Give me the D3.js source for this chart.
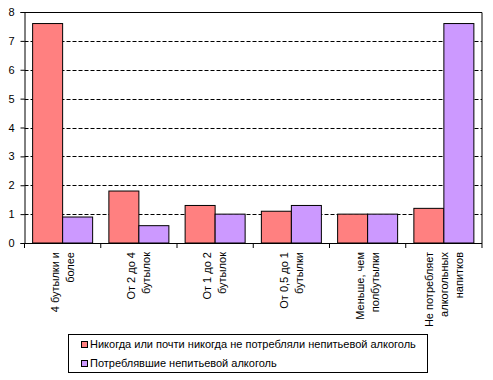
<!DOCTYPE html>
<html>
<head>
<meta charset="utf-8">
<script src="https://cdn.jsdelivr.net/npm/d3@7"></script>
<style>
  body { margin: 0; background: #fff; }
  svg { display: block; font-family: "Liberation Sans", Arial, sans-serif; }
</style>
</head>
<body>
<svg id="chart"></svg>
<script>
const categories = [
    ["4 бутылки и", "более"],
    ["От 2 до 4", "бутылок"],
    ["От 1 до 2", "бутылок"],
    ["От 0,5 до 1", "бутылки"],
    ["Меньше, чем", "полбутылки"],
    ["Не потребляет", "алкогольных", "напитков"]
];
const seriesNames = [
    "Никогда или почти никогда не потребляли непитьевой алкоголь",
    "Потреблявшие непитьевой алкоголь"
];
const neverValues = [7.6, 1.8, 1.3, 1.1, 1.0, 1.2];
const drankValues = [0.9, 0.6, 1.0, 1.3, 1.0, 7.6];
const yTicks = [0, 1, 2, 3, 4, 5, 6, 7, 8];
const colors = ["#FF8080", "#CC99FF"];

const width = 493, height = 380;
const margin = {top: 12, right: 11, bottom: 137, left: 24.5};
const plotW = width - margin.left - margin.right;
const plotH = height - margin.top - margin.bottom;

const svg = d3.select("#chart").attr("width", width).attr("height", height);
const g = svg.append("g").attr("transform", `translate(${margin.left},${margin.top})`);

const idx = d3.range(categories.length);
const x0 = d3.scaleBand().domain(idx).range([0, plotW]).paddingInner(0.213).paddingOuter(0.1066);
const x1 = d3.scaleBand().domain([0, 1]).range([0, x0.bandwidth()]);
const y = d3.scaleLinear().domain([0, 8]).range([plotH, 0]);

// dashed grid
g.selectAll("line.grid")
    .data(yTicks.filter(t => t > 0 && t < 8))
    .join("line")
    .attr("class", "grid")
    .attr("x1", 0).attr("x2", plotW)
    .attr("y1", d => Math.round(y(d)) + 0.5).attr("y2", d => Math.round(y(d)) + 0.5)
    .attr("stroke", "#000")
    .attr("stroke-dasharray", "4,2");

// frame top and right
g.append("path")
    .attr("d", `M0,0.5H${plotW}V${plotH}`)
    .attr("fill", "none").attr("stroke", "#000");

// bars
const data = idx.flatMap(i => [
    {i, s: 0, v: neverValues[i]},
    {i, s: 1, v: drankValues[i]}
]);
g.selectAll("rect.bar")
    .data(data)
    .join("rect")
    .attr("class", "bar")
    .attr("x", d => x0(d.i) + x1(d.s))
    .attr("y", d => y(d.v))
    .attr("width", x1.bandwidth())
    .attr("height", d => plotH - y(d.v))
    .attr("fill", d => colors[d.s])
    .attr("stroke", "#000")
    .attr("stroke-width", 1);

// y axis
const yAxis = g.append("g")
    .call(d3.axisLeft(y).tickValues(yTicks).tickSize(4).tickPadding(6).tickFormat(d3.format("d")));
yAxis.selectAll("path, line").attr("stroke", "#000");
yAxis.selectAll("text").attr("font-size", 11).attr("fill", "#000").attr("font-family", "Liberation Sans, Arial, sans-serif");

// x axis line and ticks at category boundaries
const step = x0.step();
const x0start = x0(0) - x0.paddingInner() * step / 2;
const bounds = d3.range(categories.length + 1).map(k => x0start + k * step);
g.append("line")
    .attr("x1", 0).attr("x2", plotW)
    .attr("y1", plotH + 0.5).attr("y2", plotH + 0.5)
    .attr("stroke", "#000");
g.selectAll("line.xtick")
    .data(bounds)
    .join("line")
    .attr("class", "xtick")
    .attr("x1", d => d).attr("x2", d => d)
    .attr("y1", plotH).attr("y2", plotH + 5)
    .attr("stroke", "#000");

// x labels, rotated
const lineGap = 15;
const labels = g.selectAll("g.xlabel")
    .data(idx)
    .join("g")
    .attr("class", "xlabel")
    .attr("transform", i => `translate(${x0(i) + x0.bandwidth() / 2},${plotH + 9}) rotate(-90)`);
labels.each(function(i) {
    const lines = categories[i];
    const n = lines.length;
    d3.select(this).selectAll("text")
        .data(lines)
        .join("text")
        .attr("x", 0)
        .attr("y", (d, k) => (k - (n - 1) / 2) * lineGap)
        .attr("dy", "0.35em")
        .attr("text-anchor", "end")
        .attr("font-size", 11)
        .text(d => d);
});

// legend
const legend = svg.append("g").attr("transform", "translate(68,334)");
legend.append("rect")
    .attr("x", 0.5).attr("y", 0.5)
    .attr("width", 359).attr("height", 38)
    .attr("fill", "#fff").attr("stroke", "#000");
const items = legend.selectAll("g.item")
    .data(seriesNames)
    .join("g")
    .attr("class", "item")
    .attr("transform", (d, k) => `translate(13,${10 + k * 19})`);
items.append("rect")
    .attr("x", 0.5).attr("y", -2.5)
    .attr("width", 6).attr("height", 6)
    .attr("fill", (d, k) => colors[k])
    .attr("stroke", "#000");
items.append("text")
    .attr("x", 9).attr("y", 0.5)
    .attr("dy", "0.35em")
    .attr("font-size", 11)
    .text(d => d);
</script>
</body>
</html>
